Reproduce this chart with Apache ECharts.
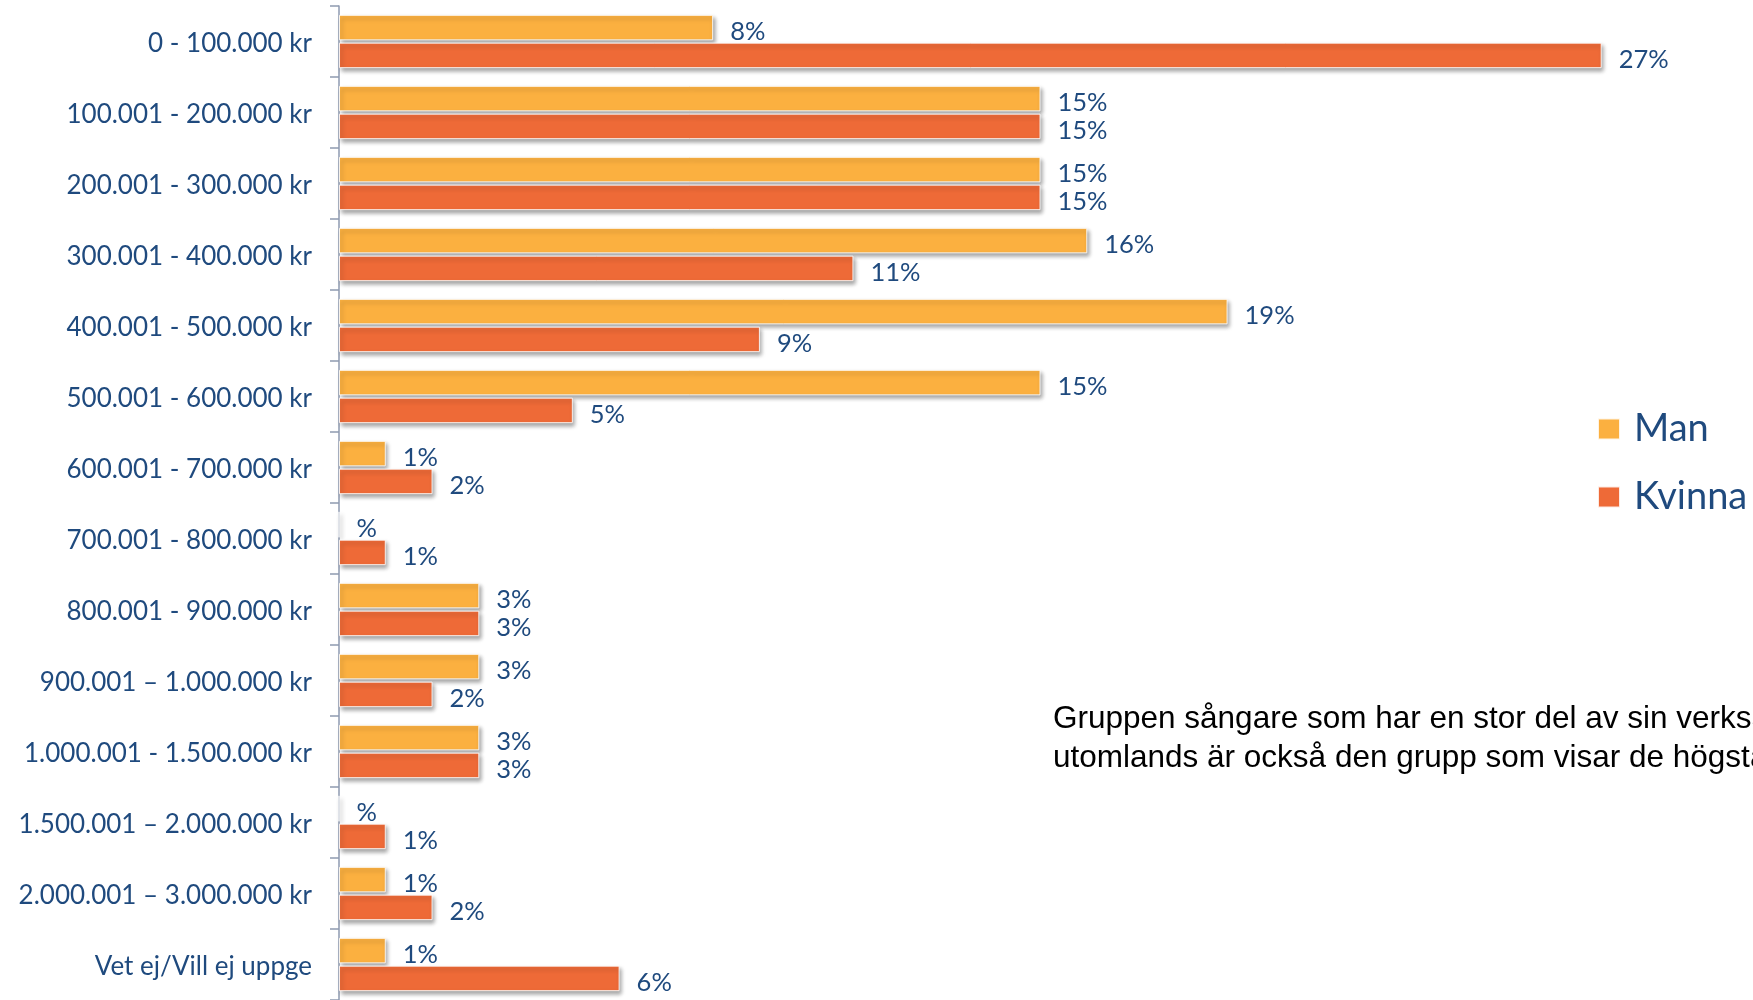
<!DOCTYPE html>
<html>
<head>
<meta charset="utf-8">
<script src="https://cdn.jsdelivr.net/npm/echarts@6/dist/echarts.min.js"></script>
<style>
html,body{margin:0;padding:0;background:#fff;}
#chart{width:1753px;height:1000px;}
</style>
</head>
<body>
<div id="chart"></div>
<script>
var categories = [
  '0 - 100.000 kr',
  '100.001 - 200.000 kr',
  '200.001 - 300.000 kr',
  '300.001 - 400.000 kr',
  '400.001 - 500.000 kr',
  '500.001 - 600.000 kr',
  '600.001 - 700.000 kr',
  '700.001 - 800.000 kr',
  '800.001 - 900.000 kr',
  '900.001 \u2013 1.000.000 kr',
  '1.000.001 - 1.500.000 kr',
  '1.500.001 \u2013 2.000.000 kr',
  '2.000.001 \u2013 3.000.000 kr',
  'Vet ej/Vill ej uppge'
];
var manValues    = [8, 15, 15, 16, 19, 15, 1, 0, 3, 3, 3, 0, 1, 1];
var kvinnaValues = [27, 15, 15, 11, 9, 5, 2, 1, 3, 2, 3, 1, 2, 6];
var seriesNames = ['Man', 'Kvinna'];
var noteLines = [
  'Gruppen s\u00e5ngare som har en stor del av sin verksamhet',
  'utomlands \u00e4r ocks\u00e5 den grupp som visar de h\u00f6gsta'
];

var textBlue = '#1F4A7E';
var colors = ['#FBB040', '#EE6A37'];
var font = 'Lato';

function pctLabel(p) { return p.value === 0 ? '%' : p.value + '%'; }

var chart = echarts.init(document.getElementById('chart'));
var barCommon = {
  type: 'bar',
  barWidth: 25.5,
  barGap: '9%',
  label: {
    show: true, position: 'right', distance: 17, offset: [0, 4],
    formatter: pctLabel, color: textBlue, fontFamily: font, fontSize: 25.5
  }
};
function mkItemStyle(c) {
  return {
    color: c, borderColor: 'rgba(255,255,255,0.85)', borderWidth: 1,
    shadowColor: 'rgba(0,0,0,0.35)', shadowBlur: 4, shadowOffsetX: 2, shadowOffsetY: 3
  };
}
chart.setOption({
  animation: false,
  color: colors,
  grid: { left: 339, top: 6, width: 1403, height: 1001, containLabel: false },
  xAxis: { type: 'value', min: 0, max: 30, show: false, splitLine: { show: false } },
  yAxis: {
    type: 'category', inverse: true, data: categories,
    axisLine: { show: true, lineStyle: { color: '#8E9AB0', width: 1.5 } },
    axisTick: { show: true, length: 9, lineStyle: { color: '#8E9AB0', width: 1.5 } },
    axisLabel: {
      margin: 27, color: textBlue, fontFamily: font, fontSize: 26,
      formatter: function (v) { return '{a|' + v + '}'; },
      rich: { a: { color: textBlue, fontFamily: font, fontSize: 26, padding: [5, 0, 0, 0] } }
    }
  },
  legend: {
    orient: 'vertical', left: 1597, top: 410, itemGap: 30, padding: 0,
    itemWidth: 22, itemHeight: 21, icon: 'rect',
    data: seriesNames,
    textStyle: { color: textBlue, fontFamily: font, fontSize: 38, padding: [0, 0, 0, 9] }
  },
  graphic: [
    { type: 'text', x: 1053, y: 719, style: { text: noteLines[0], font: '31.5px "Liberation Sans"', fill: '#000', verticalAlign: 'middle' } },
    { type: 'text', x: 1053, y: 758, style: { text: noteLines[1], font: '31.5px "Liberation Sans"', fill: '#000', verticalAlign: 'middle' } }
  ],
  series: [
    Object.assign({}, barCommon, { name: seriesNames[0], data: manValues, itemStyle: mkItemStyle(colors[0]) }),
    Object.assign({}, barCommon, { name: seriesNames[1], data: kvinnaValues, itemStyle: mkItemStyle(colors[1]) })
  ]
});
</script>
</body>
</html>
